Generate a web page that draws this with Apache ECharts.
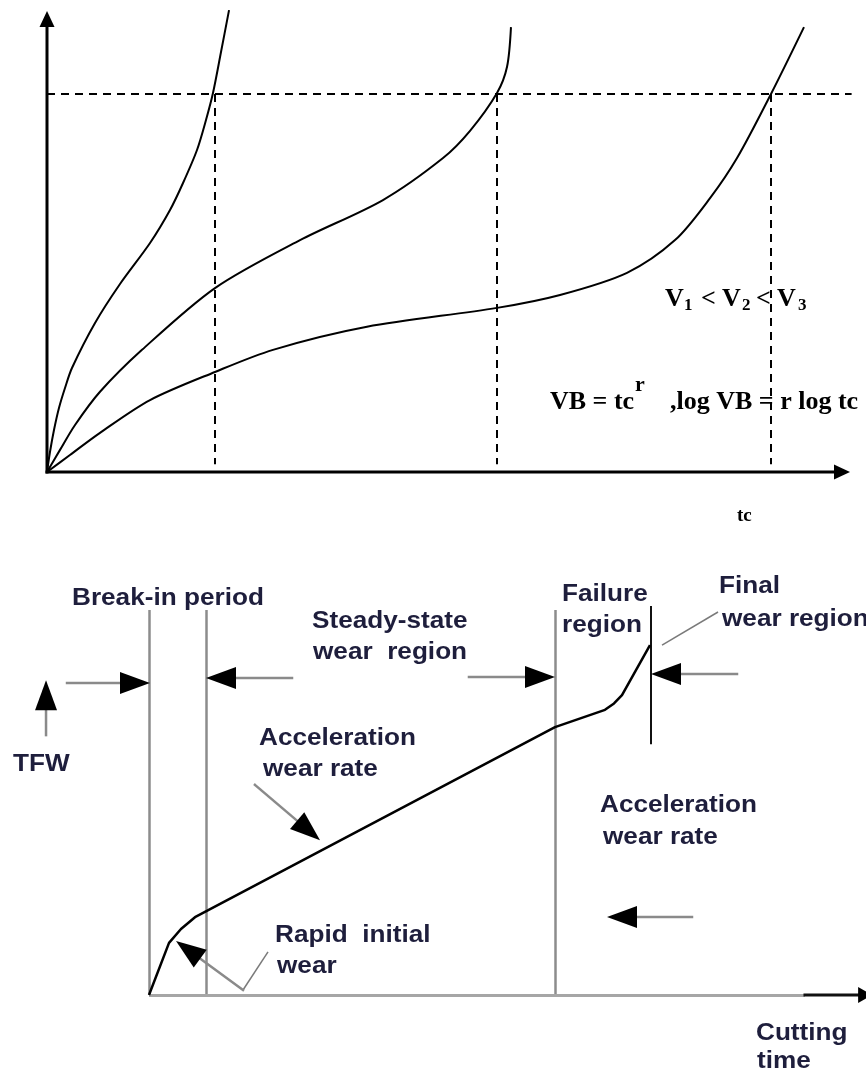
<!DOCTYPE html>
<html><head><meta charset="utf-8">
<script src="https://cdn.jsdelivr.net/npm/echarts@6/dist/echarts.min.js"></script>
<style>html,body{margin:0;padding:0;background:#fff}#c{width:866px;height:1074px}</style>
</head><body><div id="c"></div>
<script>
// ===== Top diagram: flank wear VB vs cutting time tc (relative 0..100 units) =====
const curveV3 = [[0,0],[0.37,4.34],[0.87,9.11],[1.49,13.88],[2.24,18.22],[3.11,22.56],[5.98,32.32],[9.09,40.78],[12.83,49.67],[15.32,56.83],[16.94,62.69],[18.68,69.85],[19.80,76.36],[20.67,82.21],[21.67,91.11],[22.67,100.2]];
const curveV2 = [[0,0],[1.62,4.8],[3.49,10.2],[6.60,17.4],[11.83,26.5],[20.92,39.9],[31.51,50.3],[41.84,59.0],[49.32,68.1],[52.68,74.0],[56.04,82.2],[57.29,87.9],[57.78,96.5]];
const curveV1 = [[0,0],[2.86,3.7],[6.60,8.5],[12.83,15.6],[20.92,21.7],[28.14,26.5],[39.85,31.5],[56.04,35.6],[63.89,38.4],[72.23,43.2],[78.21,50.3],[82.57,59.4],[85.93,68.1],[90.16,82.0],[94.27,96.5]];
const vbLimit = 82.0;                 // wear criterion (dashed horizontal)
const toolLives = [20.92, 56.04, 90.16]; // tc at VB limit for each speed
const dashFloor = 1.7;
const limitEnd = 100.2;
const topAxes = [[0,0,0,100],[0,0,100,0]];

// ===== Bottom diagram: tool flank wear (TFW) vs cutting time =====
const wearCurve = [[0,0],[2.86,13.2],[4.57,16.7],[6.57,19.7],[58.0,67.8],[65.14,72.2],[66.43,73.8],[67.57,75.9],[71.57,88.6]];
const regionBounds = [0, 8.14, 58.0];
const boundTop = 97.5;
const finalBound = [71.71, 63.5, 98.5];
const timeAxisGray = [[0,0],[93.71,0]];
const timeAxisArrow = [[93.71,0,103.3,0]];
const regionArrows = [
  [-11.71,79.0,0.14,79.0],
  [20.43,80.25,8.14,80.25],
  [45.71,80.5,58.0,80.5],
  [84.0,81.27,71.71,81.27],
  [-14.71,65.8,-14.71,79.7],
  [15.14,53.2,24.43,39.2],
  [13.43,1.27,3.86,13.67],
  [77.57,19.75,65.43,19.75]
];
const leaderLines = [[[13.43,1.27],[17.0,10.9]],[[73.29,88.6],[81.29,96.96]]];

const SERIF = '"Liberation Serif","Times New Roman",serif';
const SANS = '"Liberation Sans",Arial,sans-serif';
const INK = '#1e1e3c';

function arrowRenderer(headLen, headW, shaftColor, shaftW, headColor) {
  return function (params, api) {
    const a = api.coord([api.value(0), api.value(1)]);
    const b = api.coord([api.value(2), api.value(3)]);
    const dx = b[0]-a[0], dy = b[1]-a[1], L = Math.hypot(dx, dy);
    const ux = dx/L, uy = dy/L, px = -uy, py = ux;
    const bx = b[0]-ux*headLen, by = b[1]-uy*headLen;
    return {type:'group', children:[
      {type:'line', shape:{x1:a[0],y1:a[1],x2:bx+ux*2,y2:by+uy*2}, style:{stroke:shaftColor,lineWidth:shaftW,lineCap:'square'}},
      {type:'polygon', shape:{points:[[b[0],b[1]],[bx+px*headW/2,by+py*headW/2],[bx-px*headW/2,by-py*headW/2]]}, style:{fill:headColor}}
    ]};
  };
}

function sText(t, x, base, size, family, color, scaleX) {
  const off = family === SERIF ? 0.3375 : 0.3465;
  return {type:'text', x:x, y:base-off*size, scaleX: scaleX || 1, silent:true,
    style:{text:t, fontFamily:family, fontWeight:'bold', fontSize:size, fill:color,
      align:'left', textAlign:'left', verticalAlign:'middle', textVerticalAlign:'middle'}};
}

const topDash = [{coords:[[0,vbLimit],[limitEnd,vbLimit]]}].concat(
  toolLives.map(t => ({coords:[[t,vbLimit],[t,dashFloor]]})));
const grayBounds = regionBounds.map(x => ({coords:[[x,0],[x,boundTop]]}));

const curveSeries = [curveV3, curveV2, curveV1].map(d => ({
  type:'line', xAxisIndex:0, yAxisIndex:0, data:d, smooth:0.3,
  showSymbol:false, clip:false, lineStyle:{color:'#000', width:2}
}));

const chart = echarts.init(document.getElementById('c'), null, {renderer:'canvas'});
const SX = 1.09;
chart.setOption({
  animation:false,
  backgroundColor:'#fff',
  grid:[
    {left:47, top:11, width:803, height:461},
    {left:149, top:600, width:700, height:395}
  ],
  xAxis:[
    {type:'value', gridIndex:0, min:0, max:100, show:false},
    {type:'value', gridIndex:1, min:0, max:100, show:false}
  ],
  yAxis:[
    {type:'value', gridIndex:0, min:0, max:100, show:false},
    {type:'value', gridIndex:1, min:0, max:100, show:false}
  ],
  series:[
    {type:'lines', coordinateSystem:'cartesian2d', xAxisIndex:0, yAxisIndex:0, clip:false, silent:true,
      lineStyle:{color:'#000', width:2, type:[8,6], opacity:1}, data:topDash}
  ].concat(curveSeries).concat([
    {type:'custom', xAxisIndex:0, yAxisIndex:0, data:topAxes, encode:{x:[0,2], y:[1,3]},
      renderItem:arrowRenderer(16, 15, '#000', 3, '#000')},

    {type:'lines', coordinateSystem:'cartesian2d', xAxisIndex:1, yAxisIndex:1, clip:false, silent:true,
      lineStyle:{color:'#8c8c8c', width:2.5, opacity:1}, data:grayBounds},
    {type:'lines', coordinateSystem:'cartesian2d', xAxisIndex:1, yAxisIndex:1, clip:false, silent:true,
      lineStyle:{color:'#a6a6a6', width:3, opacity:1}, data:[{coords:timeAxisGray}]},
    {type:'lines', coordinateSystem:'cartesian2d', xAxisIndex:1, yAxisIndex:1, clip:false, silent:true,
      lineStyle:{color:'#111', width:2, opacity:1}, data:[{coords:[[finalBound[0],finalBound[1]],[finalBound[0],finalBound[2]]]}]},
    {type:'lines', coordinateSystem:'cartesian2d', xAxisIndex:1, yAxisIndex:1, clip:false, silent:true,
      lineStyle:{color:'#7a7a7a', width:1.5, opacity:1}, data:leaderLines.map(c => ({coords:c}))},
    {type:'line', xAxisIndex:1, yAxisIndex:1, data:wearCurve, showSymbol:false, clip:false,
      lineStyle:{color:'#000', width:2.5, join:'round'}},
    {type:'custom', xAxisIndex:1, yAxisIndex:1, data:regionArrows, encode:{x:[0,2], y:[1,3]},
      renderItem:arrowRenderer(30, 22, '#8a8a8a', 2.5, '#000')},
    {type:'custom', xAxisIndex:1, yAxisIndex:1, data:timeAxisArrow, encode:{x:[0,2], y:[1,3]},
      renderItem:arrowRenderer(14, 16, '#111', 3, '#000')}
  ]),
  graphic:[
    // top texts
    sText('V', 665, 308, 26, SERIF, '#000'),
    sText('1', 684, 311, 17, SERIF, '#000'),
    sText('<', 701, 308, 26, SERIF, '#000'),
    sText('V', 722, 308, 26, SERIF, '#000'),
    sText('2', 742, 311, 17, SERIF, '#000'),
    sText('<', 756, 308, 26, SERIF, '#000'),
    sText('V', 777, 308, 26, SERIF, '#000'),
    sText('3', 798, 311, 17, SERIF, '#000'),
    sText('VB = tc', 550, 411, 26, SERIF, '#000'),
    sText('r', 635, 393, 22, SERIF, '#000'),
    sText(',log VB = r log tc', 670, 411, 26, SERIF, '#000'),
    sText('tc', 737, 523, 19, SERIF, '#000'),
    // bottom texts
    sText('Break-in period', 72, 607, 24, SANS, INK, SX),
    sText('Steady-state', 312, 630, 24, SANS, INK, SX),
    sText('wear  region', 313, 661, 24, SANS, INK, SX),
    sText('Failure', 562, 603, 24, SANS, INK, SX),
    sText('region', 562, 634, 24, SANS, INK, SX),
    sText('Final', 719, 595, 24, SANS, INK, SX),
    sText('wear region', 722, 628, 24, SANS, INK, SX),
    sText('TFW', 13, 773, 24, SANS, INK, SX),
    sText('Acceleration', 259, 747, 24, SANS, INK, SX),
    sText('wear rate', 263, 778, 24, SANS, INK, SX),
    sText('Rapid  initial', 275, 944, 24, SANS, INK, SX),
    sText('wear', 277, 975, 24, SANS, INK, SX),
    sText('Acceleration', 600, 814, 24, SANS, INK, SX),
    sText('wear rate', 603, 846, 24, SANS, INK, SX),
    sText('Cutting', 756, 1042, 24, SANS, INK, SX),
    sText('time', 757, 1070, 24, SANS, INK, SX)
  ]
});
</script></body></html>
